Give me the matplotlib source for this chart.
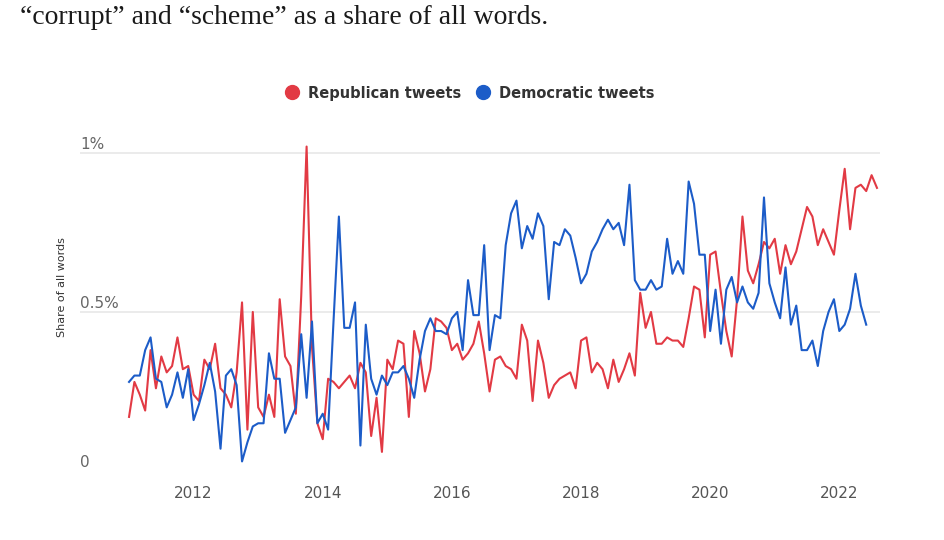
import matplotlib.pyplot as plt
from matplotlib.lines import Line2D
import numpy as np

# monthly share of words (%), Jan 2011 onward
rep = [0.17, 0.28, 0.24, 0.19, 0.38, 0.26, 0.36, 0.31, 0.33, 0.42, 0.32, 0.33,
       0.24, 0.22, 0.35, 0.32, 0.40, 0.26, 0.24, 0.20, 0.31, 0.53, 0.13, 0.50,
       0.20, 0.17, 0.24, 0.17, 0.54, 0.36, 0.33, 0.18, 0.55, 1.02, 0.39, 0.15,
       0.10, 0.29, 0.28, 0.26, 0.28, 0.30, 0.26, 0.34, 0.31, 0.11, 0.23, 0.06,
       0.35, 0.32, 0.41, 0.40, 0.17, 0.44, 0.37, 0.25, 0.32, 0.48, 0.47, 0.45,
       0.38, 0.40, 0.35, 0.37, 0.40, 0.47, 0.37, 0.25, 0.35, 0.36, 0.33, 0.32,
       0.29, 0.46, 0.41, 0.22, 0.41, 0.34, 0.23, 0.27, 0.29, 0.30, 0.31, 0.26,
       0.41, 0.42, 0.31, 0.34, 0.32, 0.26, 0.35, 0.28, 0.32, 0.37, 0.30, 0.56,
       0.45, 0.50, 0.40, 0.40, 0.42, 0.41, 0.41, 0.39, 0.48, 0.58, 0.57, 0.42,
       0.68, 0.69, 0.56, 0.44, 0.36, 0.54, 0.80, 0.63, 0.59, 0.65, 0.72, 0.70,
       0.73, 0.62, 0.71, 0.65, 0.69, 0.76, 0.83, 0.80, 0.71, 0.76, 0.72, 0.68,
       0.82, 0.95, 0.76, 0.89, 0.90, 0.88, 0.93, 0.89]
dem = [0.28, 0.30, 0.30, 0.38, 0.42, 0.29, 0.28, 0.20, 0.24, 0.31, 0.23, 0.32,
       0.16, 0.21, 0.27, 0.34, 0.25, 0.07, 0.30, 0.32, 0.27, 0.03, 0.09, 0.14,
       0.15, 0.15, 0.37, 0.29, 0.29, 0.12, 0.16, 0.20, 0.43, 0.23, 0.47, 0.15,
       0.18, 0.13, 0.47, 0.80, 0.45, 0.45, 0.53, 0.08, 0.46, 0.29, 0.24, 0.30,
       0.27, 0.31, 0.31, 0.33, 0.29, 0.23, 0.35, 0.44, 0.48, 0.44, 0.44, 0.43,
       0.48, 0.50, 0.38, 0.60, 0.49, 0.49, 0.71, 0.38, 0.49, 0.48, 0.71, 0.81,
       0.85, 0.70, 0.77, 0.73, 0.81, 0.77, 0.54, 0.72, 0.71, 0.76, 0.74, 0.67,
       0.59, 0.62, 0.69, 0.72, 0.76, 0.79, 0.76, 0.78, 0.71, 0.90, 0.60, 0.57,
       0.57, 0.60, 0.57, 0.58, 0.73, 0.62, 0.66, 0.62, 0.91, 0.84, 0.68, 0.68,
       0.44, 0.57, 0.40, 0.57, 0.61, 0.53, 0.58, 0.53, 0.51, 0.56, 0.86, 0.59,
       0.53, 0.48, 0.64, 0.46, 0.52, 0.38, 0.38, 0.41, 0.33, 0.44, 0.50, 0.54,
       0.44, 0.46, 0.51, 0.62, 0.52, 0.46]
years = [2012, 2014, 2016, 2018, 2020, 2022]
yticks = [0, 0.5, 1.0]
ylabels = ['0', '0.5%', '1%']

red = '#e23a44'
blue = '#1c5cc8'

rep_x = 2011 + np.arange(len(rep)) / 12
dem_x = 2011 + np.arange(len(dem)) / 12

fig = plt.figure(figsize=(9.44, 5.4), dpi=100)
ax = fig.add_axes([0.0847, 0.1278, 0.8475, 0.6185])

for v in [0.5, 1.0]:
    ax.axhline(v, color='#e8e8e8', lw=1.2, zorder=0)

ax.plot(rep_x, rep, color=red, lw=1.5)
ax.plot(dem_x, dem, color=blue, lw=1.5)

ax.set_xlim(2010.24, 2022.63)
ax.set_ylim(0, 1.05)
for s in ax.spines.values():
    s.set_visible(False)
ax.set_yticks([])
ax.set_xticks(years)
ax.set_xticklabels([str(y) for y in years], fontsize=11, color='#555555')
ax.tick_params(axis='x', length=0, pad=11)

for v, lab in zip(yticks, ylabels):
    ax.annotate(lab, xy=(0, v), xycoords=('axes fraction', 'data'),
                xytext=(0, 1), textcoords='offset points',
                ha='left', va='bottom', fontsize=11, color='#666666')

fig.text(62 / 944, 1 - 287 / 540, 'Share of all words', rotation=90,
         ha='center', va='center', fontsize=8, color='#333333')

handles = [Line2D([], [], ls='', marker='o', ms=10, color=red),
           Line2D([], [], ls='', marker='o', ms=10, color=blue)]
fig.legend(handles, ['Republican tweets', 'Democratic tweets'], ncol=2,
           loc='center', bbox_to_anchor=(466 / 944, 1 - 93 / 540),
           frameon=False, handletextpad=0.1, columnspacing=0.5,
           prop={'weight': 'bold', 'size': 10.5}, labelcolor='#333333')

fig.text(20 / 944, 1 - 24 / 540,
         '\u201ccorrupt\u201d and \u201cscheme\u201d as a share of all words.',
         ha='left', va='baseline', fontsize=20, family='Liberation Serif',
         color='#1a1a1a')

fig.savefig('out.png', dpi=100)
